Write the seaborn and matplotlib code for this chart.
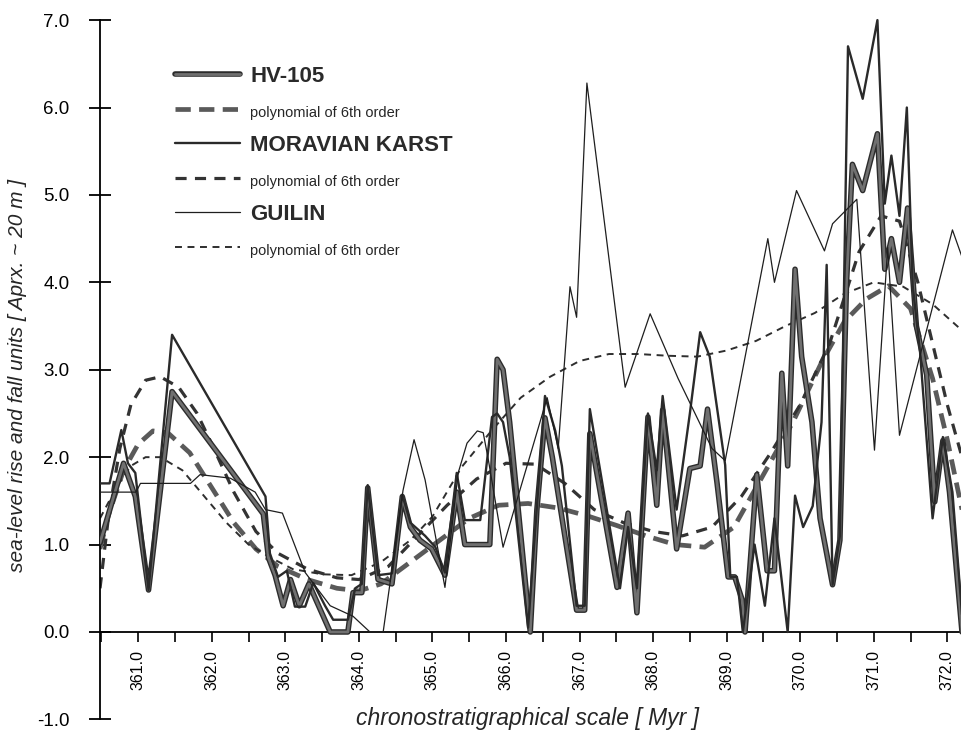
import numpy as np
import pandas as pd
import matplotlib
matplotlib.use('Agg')
import matplotlib.pyplot as plt
import matplotlib.patheffects as pe
from matplotlib.ticker import FormatStrFormatter, MultipleLocator
import seaborn as sns

# HV-105 sea-level curve
hv_x = [360.48, 360.80, 360.96, 361.14, 361.46, 362.70, 362.77, 362.86, 362.97, 363.07,
        363.19, 363.32, 363.61, 363.85, 363.92, 364.04, 364.12, 364.26, 364.45, 364.59,
        364.70, 364.83, 364.99, 365.17, 365.33, 365.44, 365.78, 365.88, 365.96, 366.05,
        366.33, 366.42, 366.53, 366.63, 366.96, 367.07, 367.14, 367.51, 367.66, 367.78,
        367.93, 368.05, 368.13, 368.32, 368.50, 368.64, 368.74, 368.87, 369.02, 369.11,
        369.21, 369.25, 369.41, 369.55, 369.65, 369.75, 369.83, 369.93, 370.02, 370.16,
        370.27, 370.44, 370.54, 370.63, 370.71, 370.85, 371.05, 371.15, 371.24, 371.35,
        371.46, 371.58, 371.72, 371.83, 371.94, 372.03, 372.20]
hv_y = [1.02, 1.93, 1.55, 0.48, 2.75, 1.35, 0.85, 0.65, 0.30, 0.60,
        0.30, 0.55, 0.00, 0.00, 0.45, 0.45, 1.65, 0.60, 0.55, 1.55,
        1.20, 1.05, 0.95, 0.65, 1.60, 1.00, 1.00, 3.12, 3.00, 2.40,
        0.00, 1.40, 2.45, 2.00, 0.25, 0.25, 2.27, 0.51, 1.36, 0.22,
        2.46, 1.45, 2.54, 0.95, 1.87, 1.90, 2.55, 1.70, 0.63, 0.63,
        0.37, 0.00, 1.80, 0.70, 0.70, 2.96, 1.90, 4.15, 3.15, 2.40,
        1.30, 0.54, 1.05, 4.00, 5.35, 5.05, 5.70, 4.15, 4.50, 4.00,
        4.85, 3.50, 2.94, 1.49, 2.19, 1.60, 0.00]

# Moravian Karst curve
mk_x = [360.48, 360.61, 360.77, 360.86, 360.96, 361.14, 361.46, 362.73, 362.79, 362.90,
        363.02, 363.13, 363.27, 363.38, 363.54, 363.65, 363.85, 363.95, 364.04, 364.12,
        364.26, 364.45, 364.59, 364.70, 364.90, 365.04, 365.17, 365.33, 365.44, 365.65,
        365.81, 365.88, 365.96, 366.05, 366.30, 366.53, 366.67, 366.76, 366.96, 367.07,
        367.14, 367.55, 367.66, 367.78, 367.93, 368.05, 368.13, 368.32, 368.50, 368.64,
        368.77, 368.98, 369.05, 369.14, 369.22, 369.38, 369.52, 369.65, 369.83, 369.93,
        370.04, 370.17, 370.29, 370.36, 370.44, 370.54, 370.65, 370.85, 371.05, 371.15,
        371.24, 371.35, 371.45, 371.53, 371.63, 371.80, 371.94, 372.07, 372.20]
mk_y = [1.70, 1.70, 2.31, 1.93, 1.82, 0.48, 3.40, 1.55, 0.90, 0.63,
        0.70, 0.29, 0.29, 0.56, 0.30, 0.14, 0.14, 0.50, 0.55, 1.68,
        0.65, 0.67, 1.57, 1.25, 1.10, 0.97, 0.68, 1.82, 1.28, 1.28,
        2.46, 2.50, 2.40, 2.00, 0.05, 2.70, 2.30, 1.90, 0.30, 0.30,
        2.55, 0.50, 1.20, 0.50, 2.50, 1.85, 2.70, 1.40, 2.50, 3.43,
        3.15, 1.91, 0.63, 0.63, 0.00, 1.00, 0.30, 1.30, 0.00, 1.56,
        1.20, 1.44, 2.40, 4.20, 0.54, 1.10, 6.70, 6.10, 7.00, 4.90,
        5.45, 4.76, 6.00, 3.96, 3.20, 1.30, 2.23, 1.60, 0.20]

# Guilin curve
gu_x = [360.48, 360.97, 361.03, 361.71, 361.84, 362.25, 362.59, 362.73, 362.96, 363.27,
        363.61, 363.92, 364.15, 364.33, 364.60, 364.75, 364.90, 365.17, 365.35, 365.47,
        365.61, 365.69, 365.76, 365.96, 366.56, 366.71, 366.87, 366.96, 367.10, 367.62,
        367.96, 368.34, 368.80, 368.98, 369.56, 369.65, 369.95, 370.33, 370.44, 370.77,
        371.01, 371.19, 371.35, 372.07, 372.20]
gu_y = [1.60, 1.60, 1.70, 1.70, 1.80, 1.76, 1.60, 1.40, 1.36, 0.68,
        0.30, 0.18, 0.00, 0.00, 1.62, 2.20, 1.74, 0.51, 1.82, 2.16,
        2.30, 2.28, 1.97, 0.97, 2.68, 2.10, 3.95, 3.60, 6.28, 2.80,
        3.64, 2.90, 2.10, 1.96, 4.50, 4.00, 5.05, 4.36, 4.67, 4.95,
        2.08, 4.40, 2.25, 4.60, 4.29]

# 6th order polynomial trends
hv_fit_x = [360.48, 360.6, 360.8, 361.0, 361.2, 361.4, 361.7, 362.0, 362.3, 362.6,
            362.9, 363.3, 363.7, 364.0, 364.3, 364.7, 365.1, 365.5, 365.9, 366.3,
            366.7, 367.1, 367.5, 367.9, 368.3, 368.7, 369.1, 369.5, 369.9, 370.3,
            370.6, 370.9, 371.2, 371.5, 371.8, 372.0, 372.2]
hv_fit_y = [0.95, 1.35, 1.85, 2.15, 2.30, 2.28, 2.05, 1.65, 1.25, 0.95,
            0.75, 0.60, 0.50, 0.47, 0.55, 0.80, 1.05, 1.30, 1.45, 1.47,
            1.42, 1.33, 1.22, 1.10, 1.00, 0.97, 1.20, 1.80, 2.40, 3.10,
            3.55, 3.81, 3.96, 3.70, 2.90, 2.20, 1.40]

mk_fit_x = [360.48, 360.6, 360.75, 360.9, 361.1, 361.3, 361.55, 361.8, 362.0, 362.3,
            362.6, 362.9, 363.3, 363.7, 364.0, 364.4, 364.8, 365.2, 365.6, 366.0,
            366.4, 366.8, 367.2, 367.6, 368.0, 368.4, 368.8, 369.2, 369.6, 370.0,
            370.4, 370.8, 371.1, 371.35, 371.6, 371.8, 372.0, 372.2]
mk_fit_y = [0.50, 1.35, 2.10, 2.60, 2.88, 2.92, 2.80, 2.50, 2.15, 1.60,
            1.15, 0.90, 0.72, 0.62, 0.60, 0.75, 1.10, 1.45, 1.75, 1.93,
            1.92, 1.70, 1.40, 1.25, 1.15, 1.10, 1.20, 1.55, 2.05, 2.60,
            3.30, 4.35, 4.76, 4.70, 4.00, 3.30, 2.60, 2.00]

gu_fit_x = [360.48, 360.7, 360.9, 361.1, 361.3, 361.6, 361.9, 362.2, 362.5, 362.8,
            363.1, 363.5, 363.9, 364.3, 364.7, 365.0, 365.4, 365.8, 366.2, 366.6,
            367.0, 367.4, 367.8, 368.2, 368.6, 369.0, 369.4, 369.8, 370.2, 370.6,
            371.0, 371.4, 371.8, 372.2]
gu_fit_y = [1.30, 1.65, 1.90, 2.00, 2.00, 1.85, 1.55, 1.25, 1.00, 0.85,
            0.72, 0.66, 0.65, 0.80, 1.05, 1.32, 1.89, 2.30, 2.68, 2.92,
            3.10, 3.18, 3.18, 3.16, 3.15, 3.22, 3.33, 3.50, 3.65, 3.87,
            4.00, 3.95, 3.75, 3.45]

sns.set_style('ticks')
plt.rcParams['font.family'] = ['Liberation Sans', 'DejaVu Sans']
plt.rcParams['lines.scale_dashes'] = False

fig = plt.figure(figsize=(9.62, 7.36), dpi=100)
ax = fig.add_axes([100 / 962, 0, 862 / 962, 1])

thick = [pe.Stroke(linewidth=4.0, foreground='#2c2c2c'), pe.Normal()]

# data curves
sns.lineplot(x=hv_x, y=hv_y, ax=ax, color='#707070', lw=2.0, path_effects=thick,
             estimator=None, label='HV-105', zorder=3)
sns.lineplot(x=hv_fit_x, y=hv_fit_y, ax=ax, color='#5a5a5a', lw=3.4,
             linestyle=(0, (11, 6)), estimator=None,
             label='polynomial of 6th order', zorder=2)
sns.lineplot(x=mk_x, y=mk_y, ax=ax, color='#2a2a2a', lw=1.7, estimator=None,
             label='MORAVIAN KARST', zorder=4)
sns.lineplot(x=mk_fit_x, y=mk_fit_y, ax=ax, color='#333333', lw=2.3,
             linestyle=(0, (8, 6)), estimator=None,
             label='polynomial of 6th order', zorder=2)
sns.lineplot(x=gu_x, y=gu_y, ax=ax, color='#1e1e1e', lw=0.9, estimator=None,
             label='GUILIN', zorder=5)
sns.lineplot(x=gu_fit_x, y=gu_fit_y, ax=ax, color='#2e2e2e', lw=1.4,
             linestyle=(0, (5, 4)), estimator=None,
             label='polynomial of 6th order', zorder=2)

ax.set_xlim(360.48, 372.2)
ax.set_ylim(-1.19, 7.23)

for s in ['top', 'right']:
    ax.spines[s].set_visible(False)
ax.spines['left'].set_bounds(-1, 7)
ax.spines['left'].set_linewidth(1.3)
ax.spines['bottom'].set_position(('data', 0))
ax.spines['bottom'].set_linewidth(1.3)
ax.spines['left'].set_color('black')
ax.spines['bottom'].set_color('black')

ax.set_yticks(np.arange(-1, 8, 1))
ax.yaxis.set_major_formatter(FormatStrFormatter('%.1f'))
ax.tick_params(axis='y', direction='inout', length=16, width=1.3, labelsize=13.5,
               pad=14, colors='black')

ax.xaxis.set_major_locator(MultipleLocator(1.0))
ax.xaxis.set_minor_locator(MultipleLocator(0.5))
ax.xaxis.set_major_formatter(FormatStrFormatter('%.1f'))
ax.tick_params(axis='x', which='both', direction='out', length=7, width=1.2,
               colors='black')
ax.tick_params(axis='x', which='major', labelsize=11.5, labelrotation=90, pad=6)
ax.set_xlabel('')
ax.set_ylabel('')

fig.text(528 / 962, 1 - 718 / 736, 'chronostratigraphical scale [ Myr ]',
         ha='center', va='center', style='italic', fontsize=16.5)
fig.text(18 / 962, 1 - 376 / 736, 'sea-level rise and fall units [ Aprx. ~ 20 m ]',
         ha='center', va='center', rotation=90, style='italic', fontsize=15)

handles, labels = ax.get_legend_handles_labels()
leg = ax.legend(handles, labels, loc='upper left',
                bbox_to_anchor=(175 / 962, 1 - 66 / 736), bbox_transform=fig.transFigure,
                frameon=False, fontsize=16, handlelength=2.93, handletextpad=0.45,
                labelspacing=0.66, borderpad=0, borderaxespad=0)
for t in leg.get_texts():
    if t.get_text().startswith('polynomial'):
        t.set_fontsize(10.5)
    else:
        t.set_fontweight('bold')
        t.set_color('#2a2a2a')

fig.savefig('out.png', dpi=100, facecolor='white')
